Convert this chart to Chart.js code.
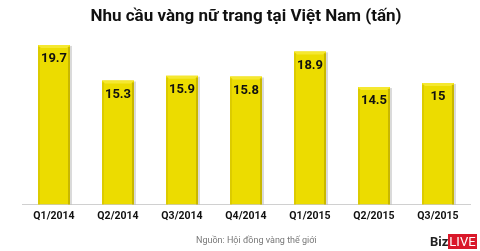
<!DOCTYPE html>
<html>
<head>
<meta charset="utf-8">
<script src="https://cdn.jsdelivr.net/npm/chart.js@4"></script>
<style>
    html, body { margin: 0; padding: 0; background: #fff; }
    #wrap { position: relative; width: 480px; height: 251px; }
    #source {
        position: absolute; left: 196px; top: 235px;
        font: 9px 'Roboto', sans-serif; color: #777;
    }
    #logo {
        position: absolute; left: 430px; top: 234px;
        font: bold 13px 'Roboto', sans-serif; color: #222; line-height: 15px;
    }
    #logo span { background: #d9182a; color: #fff; font-weight: normal; padding: 0 1px; }
</style>
</head>
<body>
<div id="wrap">
    <canvas id="chart" width="480" height="251"></canvas>
    <div id="source">Nguồn: Hội đồng vàng thế giới</div>
    <div id="logo">Biz<span>LIVE</span></div>
</div>
<script>
const categories = ['Q1/2014', 'Q2/2014', 'Q3/2014', 'Q4/2014', 'Q1/2015', 'Q2/2015', 'Q3/2015'];
const demand = [19.7, 15.3, 15.9, 15.8, 18.9, 14.5, 15];
const valueLabels = ['19.7', '15.3', '15.9', '15.8', '18.9', '14.5', '15'];

// bevel + shadow on each bar
const bevelBars = {
    id: 'bevelBars',
    beforeDatasetsDraw(chart) {
        const ctx = chart.ctx;
        ctx.save();
        chart.getDatasetMeta(0).data.forEach(bar => {
            const left = bar.x - bar.width / 2;
            ctx.fillStyle = 'rgba(150,150,150,0.35)';
            ctx.fillRect(left + 2, bar.y + 1, bar.width, bar.base - bar.y - 1);
        });
        ctx.restore();
    },
    afterDatasetsDraw(chart) {
        const ctx = chart.ctx;
        ctx.save();
        chart.getDatasetMeta(0).data.forEach((bar, i) => {
            const left = bar.x - bar.width / 2;
            const right = bar.x + bar.width / 2;
            // top highlight
            ctx.fillStyle = '#f5e830';
            ctx.beginPath();
            ctx.moveTo(left, bar.y);
            ctx.lineTo(right, bar.y);
            ctx.lineTo(right - 3, bar.y + 3);
            ctx.lineTo(left + 3, bar.y + 3);
            ctx.fill();
            // side edges
            ctx.fillStyle = '#c8b700';
            ctx.fillRect(right - 2, bar.y + 2, 2, bar.base - bar.y - 2);
            ctx.fillStyle = '#dccb00';
            ctx.fillRect(left, bar.y + 2, 2, bar.base - bar.y - 2);
            ctx.fillStyle = '#111';
            ctx.font = 'bold 13px Roboto';
            ctx.textAlign = 'center';
            ctx.textBaseline = 'middle';
            ctx.fillText(valueLabels[i], bar.x, bar.y + 14);
        });
        ctx.restore();
    }
};

new Chart(document.getElementById('chart'), {
    type: 'bar',
    data: {
        labels: categories,
        datasets: [{
            data: demand,
            backgroundColor: '#ecdc00',
            borderWidth: 0,
            barPercentage: 0.5,
            categoryPercentage: 1
        }]
    },
    options: {
        responsive: false,
        animation: false,
        layout: { padding: { left: 22, right: 10, bottom: 22 } },
        plugins: {
            legend: { display: false },
            tooltip: { enabled: false },
            title: {
                display: true,
                text: 'Nhu cầu vàng nữ trang tại Việt Nam (tấn)',
                color: '#111',
                font: { family: 'Roboto', size: 17, weight: 'bold' },
                padding: { top: 7, bottom: 7 }
            }
        },
        scales: {
            x: {
                grid: { display: false, drawTicks: false },
                border: { color: '#d0d0d0', width: 1 },
                ticks: {
                    color: '#111',
                    padding: 6,
                    font: { family: 'Roboto', size: 10.5, weight: 'bold' }
                }
            },
            y: {
                display: false,
                min: 0,
                max: 21
            }
        }
    },
    plugins: [bevelBars]
});
</script>
</body>
</html>
